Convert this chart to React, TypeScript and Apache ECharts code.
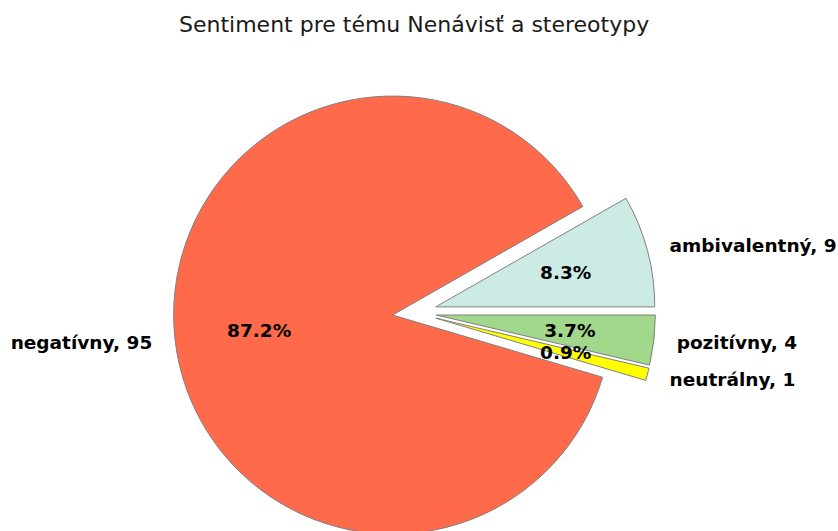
import React, { useEffect, useRef } from "react";
import * as echarts from "echarts";

const categories = ["ambivalentný", "pozitívny", "neutrálny", "negatívny"];
const counts = [9, 4, 1, 95];
const colors = ["#CCEBE5", "#A1D88B", "#FFFF00", "#FF6A4B"];
const titleText = "Sentiment pre tému Nenávisť a stereotypy";

export default function App() {
  const ref = useRef<HTMLDivElement>(null);
  useEffect(() => {
    document.body.style.margin = "0";
    const chart = echarts.init(ref.current!, undefined, { renderer: "svg" });
    const total = counts.reduce((a, b) => a + b, 0);
    const startAngle = (counts[0] / total) * 360;
    const R = 219;
    const center = [414.5, 312.5];
    const offset = 22;
    const font = "DejaVu Sans";
    const mainData = categories.map((name, i) => ({
      name,
      value: counts[i],
      selected: true,
      itemStyle: { color: colors[i] },
    }));
    const pctData = categories.map((name, i) => ({
      name,
      value: counts[i],
      selected: true,
    }));
    chart.setOption({
      animation: false,
      title: {
        text: titleText,
        left: 174,
        top: 8,
        padding: 5,
        textStyle: {
          fontFamily: font,
          fontSize: 22,
          fontWeight: "normal",
          color: "#1a1a1a",
        },
      },
      series: [
        {
          type: "pie",
          center,
          radius: R,
          startAngle,
          clockwise: true,
          selectedMode: "multiple",
          selectedOffset: offset,
          avoidLabelOverlap: false,
          emphasis: { disabled: true },
          data: mainData,
          itemStyle: { borderColor: "#808080", borderWidth: 1 },
          select: { itemStyle: { borderColor: "#808080", borderWidth: 1 } },
          label: {
            show: true,
            position: "outside",
            formatter: (p: any) => `${p.name}, ${p.value}`,
            fontFamily: font,
            fontWeight: "bold",
            fontSize: 18.5,
            color: "#000",
            distanceToLabelLine: 1,
          },
          labelLine: { show: false, length: R * 0.1, length2: 0 },
        },
        {
          type: "pie",
          center,
          radius: [R * 0.2, R],
          startAngle,
          clockwise: true,
          selectedMode: "multiple",
          selectedOffset: offset,
          avoidLabelOverlap: false,
          silent: true,
          emphasis: { disabled: true },
          data: pctData,
          itemStyle: { color: "rgba(0,0,0,0)", borderWidth: 0 },
          select: { itemStyle: { color: "rgba(0,0,0,0)", borderWidth: 0 } },
          label: {
            show: true,
            position: "inside",
            formatter: (p: any) => `${((p.value / total) * 100).toFixed(1)}%`,
            fontFamily: font,
            fontWeight: "bold",
            fontSize: 18.5,
            color: "#000",
          },
          labelLine: { show: false },
        },
      ],
    });
    return () => chart.dispose();
  }, []);
  return <div ref={ref} style={{ width: 838, height: 531 }} />;
}
